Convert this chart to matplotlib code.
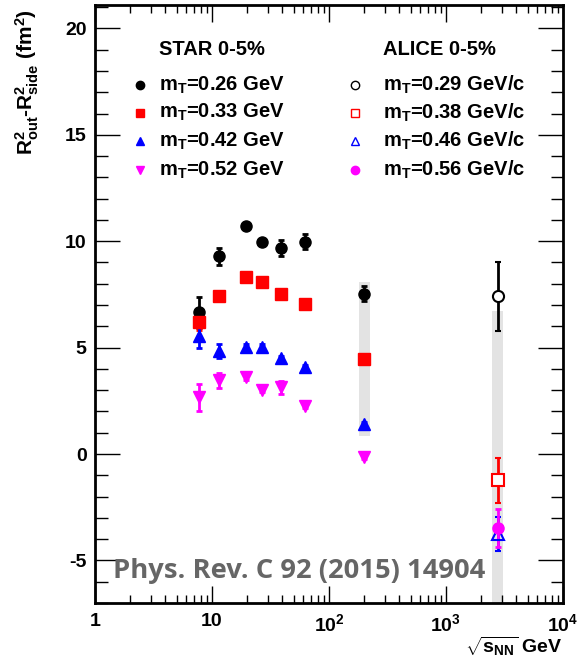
import numpy as np
import matplotlib
matplotlib.use('Agg')
import matplotlib.pyplot as plt
from matplotlib.patches import Rectangle
from matplotlib.ticker import FixedLocator, MultipleLocator, LogLocator, NullFormatter

plt.rcParams['font.family'] = ['Liberation Sans', 'DejaVu Sans']
plt.rcParams['font.weight'] = 'bold'
plt.rcParams['mathtext.fontset'] = 'custom'
plt.rcParams['mathtext.rm'] = 'Liberation Sans:bold'
plt.rcParams['mathtext.it'] = 'Liberation Sans:bold'
plt.rcParams['mathtext.bf'] = 'Liberation Sans:bold'
plt.rcParams['axes.unicode_minus'] = False

# STAR 0-5%
star_x   = [7.7, 11.5, 19.6, 27, 39, 62.4, 200]
star_026 = [6.65, 9.3, 10.72, 9.94, 9.67, 9.98, 7.53]
star_026e= [0.75, 0.4, 0.1, 0.1, 0.38, 0.36, 0.35]
star_033 = [6.19, 7.42, 8.3, 8.08, 7.52, 7.06, 4.47]
star_033e= [0.35, 0.1, 0.1, 0.1, 0.1, 0.1, 0.1]
star_042 = [5.55, 4.83, 5.05, 5.05, 4.51, 4.07, 1.4]
star_042e= [0.55, 0.32, 0.1, 0.1, 0.1, 0.1, 0.1]
star_052 = [2.66, 3.47, 3.6, 3.0, 3.13, 2.26, -0.14]
star_052e= [0.63, 0.35, 0.1, 0.1, 0.3, 0.1, 0.1]

# ALICE 0-5%
alice_x  = 2760
alice_y  = [7.42, -1.23, -3.75, -3.47]
alice_e  = [1.62, 1.05, 0.8, 0.88]

# systematic bands (x, low, high)
sys_x  = [200, 2760]
sys_lo = [0.85, -7.5]
sys_hi = [8.08, 6.7]

star_lab  = ['m$_{T}$=0.26 GeV', 'm$_{T}$=0.33 GeV', 'm$_{T}$=0.42 GeV', 'm$_{T}$=0.52 GeV']
alice_lab = ['m$_{T}$=0.29 GeV/c', 'm$_{T}$=0.38 GeV/c', 'm$_{T}$=0.46 GeV/c', 'm$_{T}$=0.56 GeV/c']

fig = plt.figure(figsize=(5.78, 6.63), dpi=100)
ax = fig.add_axes([0.1644, 0.0905, 0.8096, 0.902])
ax.set_xscale('log')
ax.set_xlim(1, 1e4)
ax.set_ylim(-7, 21.1)

for xs, lo, hi in zip(sys_x, sys_lo, sys_hi):
    f = 10 ** 0.047
    ax.add_patch(Rectangle((xs / f, lo), xs * f - xs / f, hi - lo, color='#e3e3e3', lw=0, zorder=1))

ekw = dict(ls='none', elinewidth=2, capsize=2.5, capthick=2, zorder=3)
ax.errorbar(star_x, star_026, yerr=star_026e, fmt='o', color='black', ms=8, **ekw)
ax.errorbar(star_x, star_033, yerr=star_033e, fmt='s', color='red', ms=8, **ekw)
ax.errorbar(star_x, star_042, yerr=star_042e, fmt='^', color='blue', ms=8, **ekw)
ax.errorbar(star_x, star_052, yerr=star_052e, fmt='v', color='magenta', ms=8, **ekw)

ax.errorbar([alice_x], [alice_y[2]], yerr=[alice_e[2]], fmt='^', mfc='none', mec='blue', color='blue', ms=8, mew=1.5, **ekw)
ax.errorbar([alice_x], [alice_y[3]], yerr=[alice_e[3]], fmt='o', color='magenta', ms=8, **ekw)
ax.errorbar([alice_x], [alice_y[1]], yerr=[alice_e[1]], fmt='s', mfc='white', mec='red', color='red', ms=8, mew=1.5, **ekw)
ax.errorbar([alice_x], [alice_y[0]], yerr=[alice_e[0]], fmt='o', mfc='white', mec='black', color='black', ms=8, mew=1.5, **ekw)

# legend
fs = 14.5
ax.text(0.137, 0.926, 'STAR 0-5%', transform=ax.transAxes, fontsize=fs, fontweight='bold', va='center')
ax.text(0.615, 0.926, 'ALICE 0-5%', transform=ax.transAxes, fontsize=fs, fontweight='bold', va='center')
leg_y = [0.866, 0.820, 0.772, 0.724]
star_sty = [dict(marker='o', color='black'), dict(marker='s', color='red'),
            dict(marker='^', color='blue'), dict(marker='v', color='magenta')]
alice_sty = [dict(marker='o', mfc='white', mec='black'), dict(marker='s', mfc='white', mec='red'),
             dict(marker='^', mfc='white', mec='blue'), dict(marker='o', color='magenta')]
for yy, lab, st in zip(leg_y, star_lab, star_sty):
    ax.plot([0.096], [yy], transform=ax.transAxes, ms=6, ls='none', clip_on=False, **st)
    ax.text(0.137, yy, lab, transform=ax.transAxes, fontsize=fs, va='center')
for yy, lab, st in zip(leg_y, alice_lab, alice_sty):
    ax.plot([0.556], [yy], transform=ax.transAxes, ms=6, ls='none', mew=1, clip_on=False, **st)
    ax.text(0.615, yy, lab, transform=ax.transAxes, fontsize=fs, va='center')

ax.text(0.038, 0.054, 'Phys. Rev. C 92 (2015) 14904', transform=ax.transAxes, fontsize=19.7,
        fontweight='bold', color='#666666', family=['Open Sans', 'DejaVu Sans'], va='center')

# axes styling
for s in ax.spines.values():
    s.set_linewidth(2)
ax.yaxis.set_major_locator(MultipleLocator(5))
ax.yaxis.set_minor_locator(MultipleLocator(1))
ax.xaxis.set_major_locator(FixedLocator([1, 10, 100, 1000, 10000]))
ax.xaxis.set_minor_locator(LogLocator(base=10, subs=np.arange(2, 10)))
ax.xaxis.set_minor_formatter(NullFormatter())
ax.set_xticklabels(['1', '10', '10$^{2}$', '10$^{3}$', '10$^{4}$'])
ax.tick_params(which='both', direction='in', top=True, right=True, labelsize=14, width=1)
ax.tick_params(axis='y', which='major', length=18, pad=6)
ax.tick_params(axis='y', which='minor', length=9)
ax.tick_params(axis='x', which='major', length=12, pad=7)
ax.tick_params(axis='x', which='minor', length=6)

ax.set_ylabel('R$^{2}_{out}$-R$^{2}_{side}$ (fm$^{2}$)', fontsize=15, fontweight='bold')
ax.yaxis.set_label_coords(-0.115, 0.992)
ax.yaxis.label.set_ha('right')
ax.text(1.0, -0.072, r'$\sqrt{s_{NN}}$ GeV', transform=ax.transAxes, fontsize=14, ha='right', va='center')

fig.savefig('out.png', dpi=100)
